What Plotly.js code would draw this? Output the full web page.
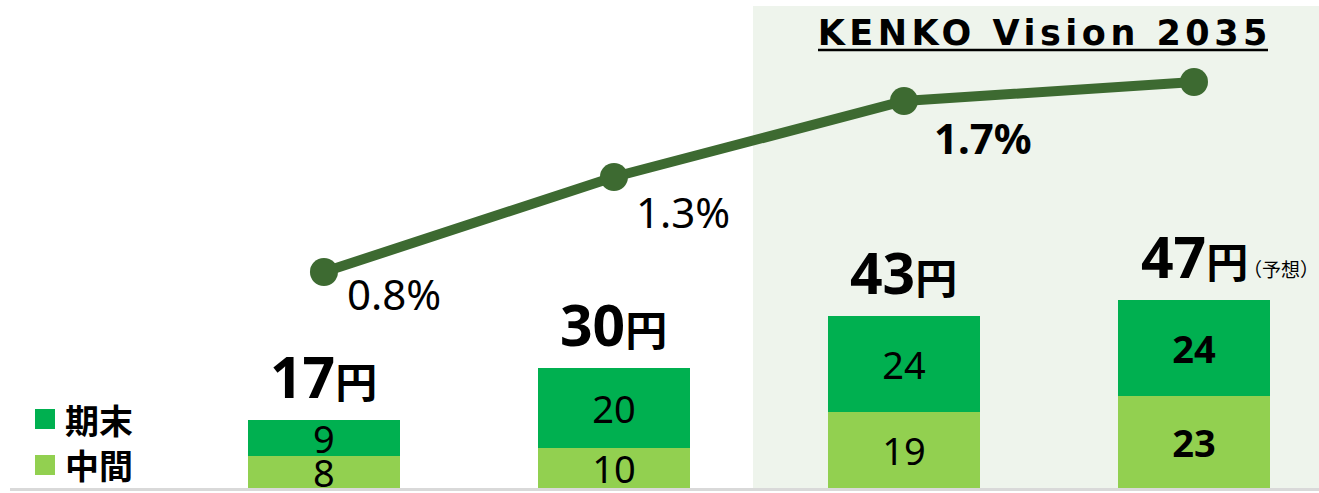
<!DOCTYPE html>
<html>
<head>
<meta charset="utf-8">
<script src="https://cdn.plot.ly/plotly-3.0.1.min.js"></script>
<style>
  html, body { margin: 0; padding: 0; background: #ffffff; }
  #chart { width: 1319px; height: 493px; }
  .annotation[data-index="0"] text { letter-spacing: 4.5px; }
</style>
</head>
<body>
<div id="chart"></div>
<script>
// ---- data ----
const categories = ['期1', '期2', '期3', '期4'];
const interimDiv = [8, 10, 19, 23];      // 中間
const yearEndDiv = [9, 20, 24, 24];      // 期末
const totalDiv   = [17, 30, 43, 47];     // 合計 (円)
const payoutRatio = [0.8, 1.3, 1.7, 1.8]; // %
const ratioLabels = ['0.8%', '1.3%', '1.7%', ''];
const seriesNames = ['期末', '中間'];
const titleText = 'KENKO Vision 2035';
const forecastNote = '（予想）';

// ---- styles ----
const W = 1319, H = 493;
const C_END = '#00B050';
const C_MID = '#92D050';
const C_LINE = '#3D6A31';
const C_SHADE = '#EEF4EC';
const FONT = 'Noto Sans, Noto Sans CJK JP, sans-serif';
const px = x => x / W;
const py = y => 1 - y / H;

const boldIdx = 3;
const segText = arr => arr.map((v, i) => i === boldIdx ? '<b>' + v + '</b>' : String(v));

const traces = [
  {
    type: 'bar', x: categories, y: interimDiv, name: seriesNames[1],
    marker: { color: C_MID, line: { width: 0 } },
    text: segText(interimDiv), textposition: 'inside', insidetextanchor: 'middle',
    textangle: 0, constraintext: 'none',
    textfont: { family: FONT, size: 38, color: '#000000' },
    width: 0.524, hoverinfo: 'skip', showlegend: false
  },
  {
    type: 'bar', x: categories, y: yearEndDiv, name: seriesNames[0],
    marker: { color: C_END, line: { width: 0 } },
    text: segText(yearEndDiv), textposition: 'inside', insidetextanchor: 'middle',
    textangle: 0, constraintext: 'none',
    textfont: { family: FONT, size: 38, color: '#000000' },
    width: 0.524, hoverinfo: 'skip', showlegend: false
  },
  {
    type: 'scatter', mode: 'lines+markers', x: categories, y: payoutRatio, yaxis: 'y2',
    line: { color: C_LINE, width: 10 },
    marker: { color: C_LINE, size: 28 },
    hoverinfo: 'skip', showlegend: false
  }
];

const annotations = [];
// title
annotations.push({
  xref: 'paper', yref: 'paper', x: px(1045), y: py(33), xanchor: 'center', yanchor: 'middle',
  text: '<b>' + titleText + '</b>', showarrow: false,
  font: { family: 'DejaVu Sans, Verdana, sans-serif', size: 35, color: '#000000' }
});
// totals
totalDiv.forEach((v, i) => {
  annotations.push({
    x: categories[i], y: v, xref: 'x', yref: 'y', xanchor: 'center', yanchor: 'bottom',
    yshift: 3, showarrow: false,
    text: '<b>' + v + '</b><span style="font-size:42px"><b>円</b></span>',
    font: { family: FONT, size: 57, color: '#000000' }
  });
});
// forecast note
annotations.push({
  x: categories[3], y: totalDiv[3], xref: 'x', yref: 'y', xanchor: 'left', yanchor: 'middle',
  xshift: 47, yshift: 32, showarrow: false, text: forecastNote,
  font: { family: 'Noto Sans CJK JP, sans-serif', size: 19, color: '#000000' }
});
// ratio labels
const ratioOffsets = [[70, -21], [69, -34], [79, -36], [0, 0]];
payoutRatio.forEach((v, i) => {
  if (!ratioLabels[i]) return;
  annotations.push({
    x: categories[i], y: v, xref: 'x', yref: 'y2', xanchor: 'center', yanchor: 'middle',
    xshift: ratioOffsets[i][0], yshift: ratioOffsets[i][1], showarrow: false,
    text: i === 2 ? '<b>' + ratioLabels[i] + '</b>' : ratioLabels[i],
    font: { family: FONT, size: 42, color: '#000000' }
  });
});
// legend labels
[[seriesNames[0], 419], [seriesNames[1], 464]].forEach(([n, yy]) => {
  annotations.push({
    xref: 'paper', yref: 'paper', x: px(63), y: py(yy), xanchor: 'left', yanchor: 'middle',
    text: '<b>' + n + '</b>', showarrow: false,
    font: { family: 'Noto Sans CJK JP, sans-serif', size: 34, color: '#000000' }
  });
});

const shapes = [
  { type: 'rect', xref: 'paper', yref: 'paper', x0: px(753), x1: 1, y0: py(488), y1: py(6),
    fillcolor: C_SHADE, line: { width: 0 }, layer: 'below' },
  { type: 'line', xref: 'paper', yref: 'paper', x0: px(10), x1: 1, y0: py(489.5), y1: py(489.5),
    line: { color: '#D9D9D9', width: 3 }, layer: 'below' },
  { type: 'line', xref: 'paper', yref: 'paper', x0: px(818), x1: px(1268), y0: py(50), y1: py(50),
    line: { color: '#000000', width: 2.5 }, layer: 'above' },
  { type: 'rect', xref: 'paper', yref: 'paper', x0: px(35), x1: px(55), y0: py(429), y1: py(409),
    fillcolor: C_END, line: { width: 0 } },
  { type: 'rect', xref: 'paper', yref: 'paper', x0: px(35), x1: px(55), y0: py(475), y1: py(455),
    fillcolor: C_MID, line: { width: 0 } }
];

const layout = {
  width: W, height: H,
  margin: { l: 0, r: 0, t: 0, b: 0, pad: 0 },
  paper_bgcolor: '#ffffff', plot_bgcolor: 'rgba(0,0,0,0)',
  barmode: 'stack',
  showlegend: false,
  xaxis: { type: 'category', range: [-1.117, 3.431], visible: false, fixedrange: true },
  yaxis: { range: [-1.25, 122], visible: false, fixedrange: true },
  yaxis2: { range: [-0.3632, 2.2316], overlaying: 'y', visible: false, fixedrange: true },
  annotations: annotations,
  shapes: shapes
};

Plotly.newPlot('chart', traces, layout, { staticPlot: true, displayModeBar: false });
</script>
</body>
</html>
